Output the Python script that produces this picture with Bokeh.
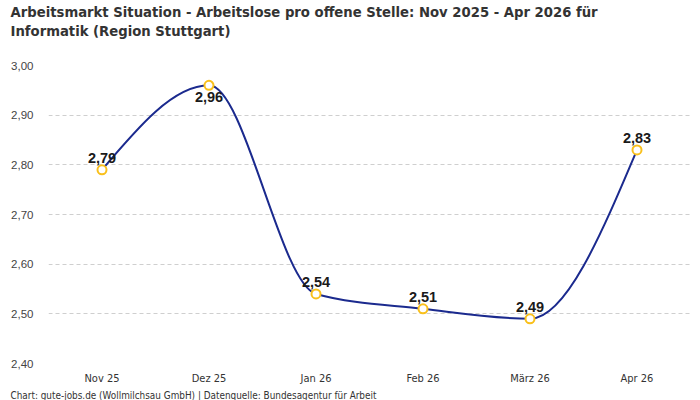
import numpy as np
from bokeh.plotting import figure
from bokeh.models import (Range1d, FixedTicker, CustomJSTickFormatter, Title,
                          ColumnDataSource)
from bokeh.core.properties import value
from bokeh.embed import file_html
from bokeh.resources import INLINE

# --- data -------------------------------------------------------------------
months = ["Nov 25", "Dez 25", "Jan 26", "Feb 26", "März 26", "Apr 26"]
ratios = [2.79, 2.96, 2.54, 2.51, 2.49, 2.83]
y_ticks = [2.40, 2.50, 2.60, 2.70, 2.80, 2.90, 3.00]
# labels placed under the point instead of above
labels_below = ["Dez 25"]

title_lines = ["Arbeitsmarkt Situation - Arbeitslose pro offene Stelle: Nov 2025 - Apr 2026 für",
               "Informatik (Region Stuttgart)"]
source_note = "Chart: gute-jobs.de (Wollmilchsau GmbH) | Datenquelle: Bundesagentur für Arbeit"

LINE = "#1b2a8e"
DOT = "#f9c01c"
NARROW = "DejaVu Sans Condensed"

xs = np.arange(len(months), dtype=float)
ys = np.array(ratios, dtype=float)

# --- monotone cubic (monotoneX style) bezier control points -------------------
def monotone_tangents(x, y):
    n = len(x)
    t = np.zeros(n)
    h = np.diff(x)
    s = np.diff(y) / h
    for i in range(1, n - 1):
        s0, s1 = s[i - 1], s[i]
        p = (s0 * h[i] + s1 * h[i - 1]) / (h[i - 1] + h[i])
        t[i] = (np.sign(s0) + np.sign(s1)) * min(abs(s0), abs(s1), 0.5 * abs(p))
    t[0] = (3 * s[0] - t[1]) / 2
    t[-1] = (3 * s[-1] - t[-2]) / 2
    return t

tan = monotone_tangents(xs, ys)
dx = np.diff(xs) / 3.0
seg = ColumnDataSource(dict(
    x0=xs[:-1], y0=ys[:-1], x1=xs[1:], y1=ys[1:],
    cx0=xs[:-1] + dx, cy0=ys[:-1] + dx * tan[:-1],
    cx1=xs[1:] - dx, cy1=ys[1:] - dx * tan[1:],
))

txt = [f"{v:.2f}".replace(".", ",") for v in ratios]
is_below = [m in labels_below for m in months]

# --- figure -------------------------------------------------------------------
p = figure(width=700, height=400, output_backend="svg", toolbar_location=None,
           x_range=Range1d(-0.5, len(months) - 0.5), y_range=Range1d(2.40, 3.00),
           min_border_left=48, min_border_right=10, min_border_top=65,
           min_border_bottom=0)
p.outline_line_color = None
p.background_fill_color = "white"
p.border_fill_color = "white"

# empty spacer panel keeps the heading clear of the plot area
p.add_layout(Title(text=" ", standoff=0, text_font_size="22.3px"), "above")

# two-line heading: second line closest to the plot, first line (plot title) on top
p.add_layout(Title(text=title_lines[1], align="left", offset=-38, standoff=0,
                   text_font=NARROW, text_font_size="14.7px", text_font_style="bold",
                   text_color="#333333"), "above")
p.title.text = title_lines[0]
p.title.align = "left"
p.title.offset = -38
p.title.standoff = 0
p.title.text_font = NARROW
p.title.text_font_size = "14.7px"
p.title.text_font_style = "bold"
p.title.text_color = "#333333"

p.xgrid.grid_line_color = None
p.ygrid.grid_line_color = "#cfcfcf"
p.ygrid.grid_line_dash = "4 3"
p.ygrid.grid_line_width = 1

p.yaxis.ticker = FixedTicker(ticks=y_ticks)
p.yaxis.formatter = CustomJSTickFormatter(code="return tick.toFixed(2).replace('.', ',');")
p.yaxis.axis_line_color = None
p.yaxis.major_tick_line_color = None
p.yaxis.minor_tick_line_color = None
p.yaxis.major_tick_out = 0
p.yaxis.major_label_standoff = 15
p.yaxis.major_label_text_font = "Liberation Sans"
p.yaxis.major_label_text_font_size = "11.5px"
p.yaxis.major_label_text_color = "#444444"

p.xaxis.ticker = FixedTicker(ticks=list(xs))
p.xaxis.major_label_overrides = {float(i): m for i, m in enumerate(months)}
p.xaxis.axis_line_color = None
p.xaxis.major_tick_line_color = None
p.xaxis.minor_tick_line_color = None
p.xaxis.major_tick_out = 0
p.xaxis.major_label_standoff = 8
p.xaxis.major_label_text_font = NARROW
p.xaxis.major_label_text_font_size = "11px"
p.xaxis.major_label_text_color = "#333333"

p.add_layout(Title(text=source_note, align="left", offset=-38, standoff=0,
                   text_font=NARROW, text_font_size="9.9px", text_font_style="normal",
                   text_color="#333333"), "below")

p.bezier(x0="x0", y0="y0", x1="x1", y1="y1", cx0="cx0", cy0="cy0",
         cx1="cx1", cy1="cy1", source=seg, line_color=LINE, line_width=2)

p.scatter(xs, ys, size=9, fill_color="white", line_color=DOT, line_width=2)

common = dict(text_align="center", text_font=value("Liberation Sans"),
              text_font_size="14.5px", text_font_style="bold", text_color="#1a1a1a")
up = [i for i, b in enumerate(is_below) if not b]
dn = [i for i, b in enumerate(is_below) if b]
p.text(xs[up], ys[up], text=[txt[i] for i in up], text_baseline="bottom",
       y_offset=-7, **common)
p.text(xs[dn], ys[dn], text=[txt[i] for i in dn], text_baseline="top",
       y_offset=7, **common)

open("out.html", "w").write(file_html(p, INLINE))
